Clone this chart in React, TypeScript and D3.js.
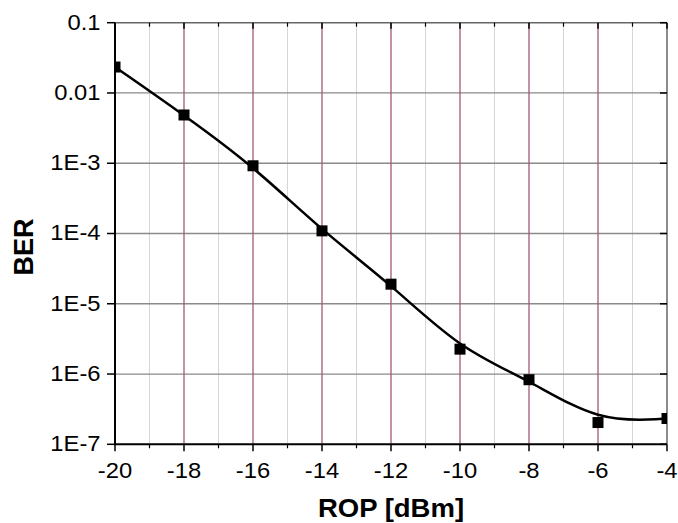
import React from "react";
import * as d3 from "d3";

const ropValues = [-20, -18, -16, -14, -12, -10, -8, -6, -4];
const berValues = [0.0234, 0.00486, 9.2e-4, 1.09e-4, 1.9e-5, 2.26e-6, 8.3e-7, 2.04e-7, 2.33e-7];
const xTicks = [-20, -18, -16, -14, -12, -10, -8, -6, -4];
const xMinorTicks = [-19, -17, -15, -13, -11, -9, -7, -5];
const yTicks = [1e-1, 1e-2, 1e-3, 1e-4, 1e-5, 1e-6, 1e-7];
const yTickLabels = ["0.1", "0.01", "1E-3", "1E-4", "1E-5", "1E-6", "1E-7"];

const W = 678, H = 523;
const L = 115, R = 667, T = 22.7, B = 444.3;

export default function App() {
  const x = d3.scaleLinear().domain([-20, -4]).range([L, R]);
  const y = d3.scaleLog().domain([1e-7, 1e-1]).range([B, T]);
  const pts: [number, number][] = ropValues.map((v, i) => [x(v), y(berValues[i])]);
  const line = d3.line().curve(d3.curveBasis)(pts) || "";
  const font = "Arial, 'Liberation Sans', sans-serif";
  const ms = 11;
  const tickFs = 22;
  const tickSx = 1.08;
  return (
    <svg width={W} height={H} style={{ position: "absolute", left: 0, top: 0, background: "#fff" }}>
      <defs>
        <clipPath id="plot">
          <rect x={L} y={T} width={R - L} height={B - T} />
        </clipPath>
      </defs>
      {xMinorTicks.map((t) => (
        <line key={"gm" + t} x1={x(t)} x2={x(t)} y1={T} y2={B} stroke="#d6d6d6" strokeWidth={1} />
      ))}
      {yTicks.slice(1, -1).map((t) => (
        <line key={"gy" + t} x1={L} x2={R} y1={y(t)} y2={y(t)} stroke="#8a8a8a" strokeWidth={1.3} />
      ))}
      {xTicks.slice(1, -1).map((t) => (
        <line key={"gx" + t} x1={x(t)} x2={x(t)} y1={T} y2={B} stroke="#a05a7a" strokeWidth={1.3} />
      ))}
      <line x1={L} x2={R} y1={T} y2={T} stroke="#666" strokeWidth={1.5} />
      <line x1={R} x2={R} y1={T} y2={B} stroke="#666" strokeWidth={1.5} />
      {xTicks.map((t) => (
        <line key={"tt" + t} x1={x(t)} x2={x(t)} y1={T} y2={T + 6} stroke="#000" strokeWidth={1.5} />
      ))}
      {xMinorTicks.map((t) => (
        <line key={"ttm" + t} x1={x(t)} x2={x(t)} y1={T} y2={T + 4} stroke="#000" strokeWidth={1.2} />
      ))}
      {yTicks.map((t) => (
        <line key={"rt" + t} x1={R - 7} x2={R} y1={y(t)} y2={y(t)} stroke="#000" strokeWidth={1.5} />
      ))}
      <g clipPath="url(#plot)">
        <path d={line} fill="none" stroke="#000" strokeWidth={2.5} />
        {pts.map(([px, py], i) => (
          <rect key={"m" + i} x={px - ms / 2} y={py - ms / 2} width={ms} height={ms} fill="#000" />
        ))}
      </g>
      <line x1={L} x2={L} y1={T} y2={B + 1} stroke="#000" strokeWidth={2} />
      <line x1={L - 1} x2={R} y1={B} y2={B} stroke="#000" strokeWidth={2} />
      {xTicks.map((t) => (
        <line key={"bt" + t} x1={x(t)} x2={x(t)} y1={B} y2={B + 7} stroke="#000" strokeWidth={1.5} />
      ))}
      {xMinorTicks.map((t) => (
        <line key={"btm" + t} x1={x(t)} x2={x(t)} y1={B} y2={B + 4} stroke="#000" strokeWidth={1.2} />
      ))}
      {yTicks.map((t) => (
        <line key={"lt" + t} x1={L - 8} x2={L} y1={y(t)} y2={y(t)} stroke="#000" strokeWidth={1.5} />
      ))}
      {xTicks.map((t) => (
        <text key={"xl" + t} transform={`translate(${x(t)},478) scale(${tickSx},1)`} textAnchor="middle" fontFamily={font} fontSize={tickFs} fill="#000">
          {t}
        </text>
      ))}
      {yTicks.map((t, i) => (
        <text key={"yl" + t} transform={`translate(100.5,${y(t) + 6.8}) scale(${tickSx},1)`} textAnchor="end" fontFamily={font} fontSize={tickFs} fill="#000">
          {yTickLabels[i]}
        </text>
      ))}
      <text transform={`translate(${(L + R) / 2},516.5) scale(1.1,1)`} textAnchor="middle" fontFamily={font} fontSize={25} fontWeight="bold" fill="#000">
        ROP [dBm]
      </text>
      <text transform={`translate(32.5,247) rotate(-90)`} textAnchor="middle" fontFamily={font} fontSize={27} fontWeight="bold" fill="#000">
        BER
      </text>
    </svg>
  );
}
